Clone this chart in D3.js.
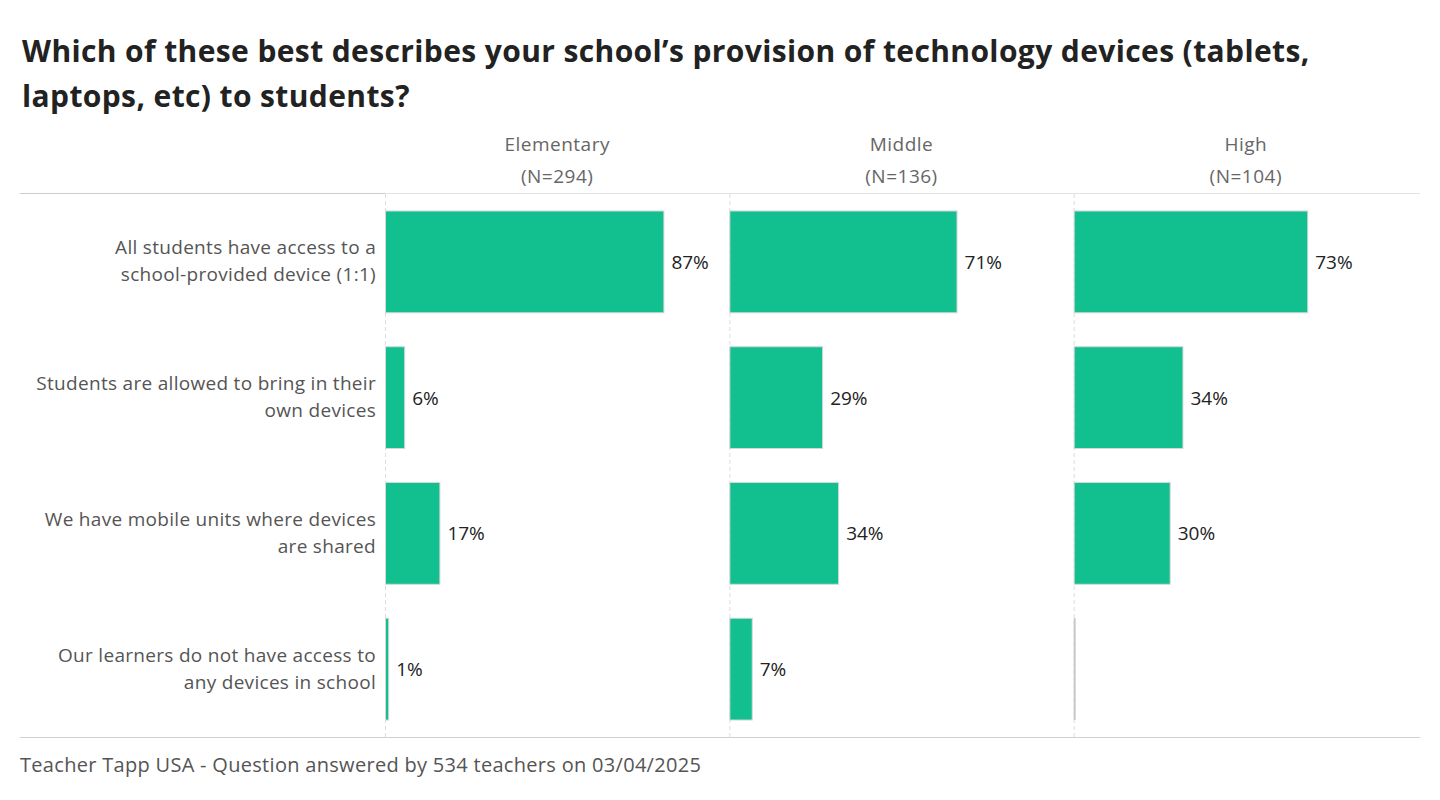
<!DOCTYPE html>
<html>
<head>
<meta charset="utf-8">
<script src="https://cdn.jsdelivr.net/npm/d3@7"></script>
<style>
  body { margin: 0; background: #fff; }
  svg { display: block; font-family: "Open Sans", Lato, sans-serif; }
</style>
</head>
<body>
<div id="chart"></div>
<script>
const titleLines = [
    "Which of these best describes your school\u2019s provision of technology devices (tablets,",
    "laptops, etc) to students?"
];
const categories = [
    ["All students have access to a", "school-provided device (1:1)"],
    ["Students are allowed to bring in their", "own devices"],
    ["We have mobile units where devices", "are shared"],
    ["Our learners do not have access to", "any devices in school"]
];
const groups = ["Elementary", "Middle", "High"];
const groupN = ["(N=294)", "(N=136)", "(N=104)"];
const elementary = [0.87, 0.06, 0.17, 0.01];
const middle = [0.71, 0.29, 0.34, 0.07];
const high = [0.73, 0.34, 0.30, 0.00];
const footer = "Teacher Tapp USA - Question answered by 534 teachers on 03/04/2025";

const width = 1440;
const height = 800;
const series = [elementary, middle, high];

const svg = d3.select("#chart").append("svg")
    .attr("width", width)
    .attr("height", height);

// Title
svg.append("g")
    .selectAll("text")
    .data(titleLines)
    .join("text")
    .attr("x", 22)
    .attr("y", 62)
    .attr("dy", (d, i) => i * 45)
    .attr("font-size", 30)
    .attr("font-weight", "bold")
    .attr("letter-spacing", 0.38)
    .attr("fill", "#222")
    .text(d => d);

// Scales
const xGroup = d3.scaleBand().domain(groups).range([385, 1418]);
const y = d3.scaleBand()
    .domain(d3.range(categories.length))
    .range([194, 737])
    .paddingInner(0.25)
    .paddingOuter(0.125);
const x = d3.scaleLinear().domain([0, 1]).range([0, 320]);

// Frame lines
svg.append("line")
    .attr("x1", 20).attr("x2", 385).attr("y1", 193.5).attr("y2", 193.5)
    .attr("stroke", "#ccc");
svg.append("line")
    .attr("x1", 385).attr("x2", 1420).attr("y1", 193.5).attr("y2", 193.5)
    .attr("stroke", "#e3e3e3");
svg.append("line")
    .attr("x1", 20).attr("x2", 1420).attr("y1", 737.5).attr("y2", 737.5)
    .attr("stroke", "#d0d0d0");

// Category labels
svg.append("g")
    .selectAll("text")
    .data(categories)
    .join("text")
    .attr("text-anchor", "end")
    .attr("font-size", 19)
    .attr("letter-spacing", 0.3)
    .attr("fill", "#555")
    .selectAll("tspan")
    .data((d, i) => d.map(t => ({ t, i, n: d.length })))
    .join("tspan")
    .attr("x", 376)
    .attr("y", (d, j) => y(d.i) + y.bandwidth() / 2 - (d.n - 1) * 13.5 + j * 27 + 6)
    .text(d => d.t);

// Panels
const panel = svg.append("g")
    .selectAll("g")
    .data(groups)
    .join("g")
    .attr("transform", d => `translate(${xGroup(d)},0)`);

panel.append("line")
    .attr("x1", 0.5).attr("x2", 0.5)
    .attr("y1", 194).attr("y2", 737)
    .attr("stroke", "#ddd")
    .attr("stroke-dasharray", "4,3");

panel.append("text")
    .attr("x", xGroup.bandwidth() / 2)
    .attr("y", 151)
    .attr("text-anchor", "middle")
    .attr("font-size", 19)
    .attr("letter-spacing", 0.5)
    .attr("fill", "#666")
    .text(d => d);

panel.append("text")
    .attr("x", xGroup.bandwidth() / 2)
    .attr("y", 183)
    .attr("text-anchor", "middle")
    .attr("font-size", 19)
    .attr("letter-spacing", 0.5)
    .attr("fill", "#666")
    .text((d, i) => groupN[i]);

panel.each(function (g, gi) {
    const p = d3.select(this);
    const vals = series[gi];
    p.selectAll("rect")
        .data(vals.map((v, i) => ({ v, i })).filter(d => d.v > 0))
        .join("rect")
        .attr("x", 0.5)
        .attr("y", d => y(d.i))
        .attr("width", d => x(d.v))
        .attr("height", y.bandwidth())
        .attr("fill", "#12bf8f")
        .attr("stroke", "#d8d8d8")
        .attr("stroke-width", 1);

    // zero values show only the baseline
    p.selectAll("line.zero")
        .data(vals.map((v, i) => ({ v, i })).filter(d => d.v === 0))
        .join("line")
        .attr("class", "zero")
        .attr("x1", 1).attr("x2", 1)
        .attr("y1", d => y(d.i))
        .attr("y2", d => y(d.i) + y.bandwidth())
        .attr("stroke", "#c8c8c8")
        .attr("stroke-width", 2);

    p.selectAll("text.val")
        .data(vals.map((v, i) => ({ v, i })).filter(d => d.v > 0))
        .join("text")
        .attr("class", "val")
        .attr("x", d => x(d.v) + 8)
        .attr("y", d => y(d.i) + y.bandwidth() / 2 + 7)
        .attr("font-size", 19)
        .attr("fill", "#222")
        .text(d => d3.format(".0%")(d.v));
});

// Footer
svg.append("text")
    .attr("x", 20)
    .attr("y", 772)
    .attr("font-size", 20)
    .attr("letter-spacing", 0.3)
    .attr("fill", "#555")
    .text(footer);
</script>
</body>
</html>
